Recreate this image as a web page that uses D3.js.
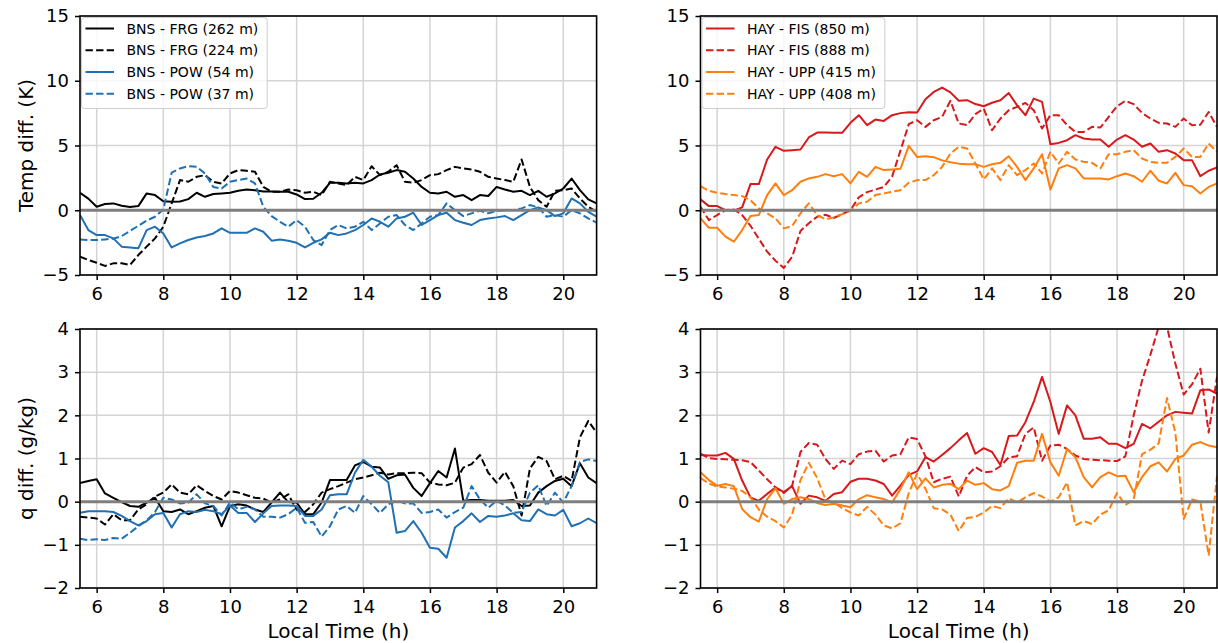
<!DOCTYPE html>
<html>
<head>
<meta charset="utf-8">
<script src="https://cdn.jsdelivr.net/npm/d3@7"></script>
<style>
  body { margin: 0; background: #fff; }
  svg { display: block; }
  text { font-family: "DejaVu Sans", sans-serif; fill: #000; }
</style>
</head>
<body>
<svg id="fig" width="1218" height="643"></svg>
<script>
// Sampling times (local time, hours), every 15 minutes
const times = [5.5,5.75,6,6.25,6.5,6.75,7,7.25,7.5,7.75,8,8.25,8.5,8.75,9,9.25,9.5,9.75,
  10,10.25,10.5,10.75,11,11.25,11.5,11.75,12,12.25,12.5,12.75,13,13.25,13.5,13.75,
  14,14.25,14.5,14.75,15,15.25,15.5,15.75,16,16.25,16.5,16.75,17,17.25,17.5,17.75,
  18,18.25,18.5,18.75,19,19.25,19.5,19.75,20,20.25,20.5,20.75,21];

const xTicks = [6, 8, 10, 12, 14, 16, 18, 20];
const tempTicks = [-5, 0, 5, 10, 15];
const qTicks = [-2, -1, 0, 1, 2, 3, 4];

// Temperature differences (K)
const tempBnsFrg262 = [1.35,0.9,0.27,0.48,0.53,0.35,0.25,0.32,1.3,1.17,0.7,0.65,0.68,0.86,1.35,1.04,1.25,1.3,1.35,1.5,1.6,1.55,1.45,1.45,1.43,1.43,1.22,0.86,0.89,1.35,2.12,2.12,2.07,2.12,2.07,2.33,2.76,2.9,3.1,2.97,2.45,1.8,1.35,1.3,1.43,1.04,1.17,0.78,1.17,1.1,1.8,1.6,1.43,1.5,1.17,1.5,1.04,1.3,1.68,2.45,1.55,0.84,0.53];
const tempBnsFrg224 = [-3.59,-3.84,-4.05,-4.3,-4.1,-4.1,-4.23,-3.46,-2.81,-2.17,-1.27,0.53,2.33,2.2,2.58,2.71,2.2,2.07,2.84,3.1,3.05,2.97,1.8,1.43,1.43,1.6,1.55,1.35,1.43,1.17,2.2,2.07,1.94,2.58,2.33,3.4,2.71,2.97,3.48,2.2,2.12,2.33,2.71,2.79,3.1,3.35,3.23,3.15,2.97,2.58,2.45,2.33,2.2,3.92,1.8,0.78,0.27,1.5,1.55,1.68,0.91,0.27,-0.12];
const tempBnsPow54 = [-0.37,-1.53,-1.92,-1.92,-2.17,-2.81,-2.87,-2.94,-1.53,-1.27,-1.79,-2.87,-2.56,-2.3,-2.1,-1.99,-1.79,-1.4,-1.74,-1.74,-1.74,-1.4,-1.66,-2.35,-2.25,-2.35,-2.51,-2.87,-2.51,-2.25,-1.74,-1.92,-1.79,-1.53,-1.14,-0.63,-0.89,-1.27,-0.63,-0.5,-0.19,-1.14,-0.76,-0.37,-0.19,-0.76,-0.96,-1.14,-0.76,-0.63,-0.55,-0.45,-0.76,-0.37,0.01,0.22,0.01,-0.45,-0.24,0.91,0.53,-0.12,-0.5];
const tempBnsPow37 = [-2.25,-2.3,-2.3,-2.25,-2.2,-2.0,-1.6,-1.2,-0.8,-0.5,0.05,2.9,3.23,3.4,3.35,2.84,1.8,1.68,2.2,2.33,2.45,2.07,0.27,-0.45,-0.89,-1.27,-0.76,-1.27,-2.3,-2.69,-1.53,-1.14,-1.4,-1.27,-0.89,-1.53,-1.02,-0.5,-0.37,-1.14,-1.53,-1.02,-0.5,-0.37,0.53,0.01,-0.45,-0.24,-0.04,-0.24,-0.04,0.01,0.01,0.14,0.4,0.22,-0.5,-0.37,-0.5,0.01,-0.24,-0.63,-0.96];
const tempHayFis850 = [0.84,0.32,0.32,0.01,-0.04,0.22,2.02,2.02,3.92,4.9,4.59,4.64,4.69,5.62,6.0,6.0,5.98,5.98,6.75,7.34,6.57,7.0,6.9,7.34,7.5,7.57,7.55,8.57,9.14,9.47,9.1,8.45,8.5,8.2,8.03,8.3,8.5,9.05,8.1,7.34,8.62,8.37,5.1,5.2,5.41,5.8,5.54,5.46,5.46,4.9,5.46,5.8,5.46,4.9,5.15,4.51,4.64,4.38,3.87,3.87,2.63,3.05,3.3];
const tempHayFis888 = [0.27,-0.76,-0.37,0.01,0.06,-0.37,-1.2,-2.2,-3.2,-3.9,-4.45,-3.6,-1.6,-1.0,-0.5,-0.35,-0.6,-0.3,0.0,1.0,1.4,1.6,1.8,2.6,4.6,6.65,6.95,6.44,6.95,7.21,8.45,6.7,6.57,7.42,7.85,6.18,7.08,7.72,7.98,8.29,7.72,6.31,7.34,7.34,6.57,6.05,6.05,6.44,6.39,7.21,8.03,8.45,8.19,7.52,7.08,6.75,6.7,6.44,7.08,6.57,6.6,7.59,6.44];
const tempHayUpp415 = [-0.63,-1.35,-1.35,-2.04,-2.43,-1.53,-0.45,-0.37,1.17,2.07,1.17,1.55,2.2,2.46,2.58,2.79,2.63,2.79,2.07,2.97,2.58,3.35,3.1,3.15,3.2,4.97,4.12,4.17,4.1,3.85,3.7,3.6,3.56,3.56,3.35,3.55,3.66,4.17,3.35,2.33,3.23,4.33,1.6,3.23,3.48,3.23,2.46,2.46,2.46,2.38,2.63,2.84,2.63,2.2,3.05,2.28,2.07,2.89,1.94,1.86,1.3,1.8,2.07];
const tempHayUpp408 = [1.86,1.5,1.35,1.25,1.17,1.09,0.78,0.14,-0.24,-0.63,-1.4,-1.22,-0.24,0.53,-0.37,-0.7,-0.55,-0.3,-0.04,0.53,0.66,1.17,1.3,1.43,1.55,2.12,2.33,2.33,2.71,3.35,4.38,4.9,4.77,3.61,2.38,3.23,2.33,3.48,2.71,3.1,3.61,2.84,4.51,3.61,4.51,3.92,3.74,3.66,3.23,4.33,4.33,4.51,4.64,4.0,3.74,3.66,3.66,4.12,4.77,4.12,4.12,5.15,4.51];

// Specific humidity differences (g/kg)
const qBnsFrg262 = [0.43,0.48,0.52,0.19,0.09,-0.01,-0.1,-0.12,-0.02,0.09,-0.22,-0.24,-0.18,-0.29,-0.22,-0.14,-0.1,-0.57,-0.1,-0.06,-0.09,-0.18,-0.24,-0.02,0.21,-0.01,-0.02,-0.29,-0.29,-0.02,0.5,0.5,0.5,0.84,0.92,0.81,0.79,0.53,0.61,0.63,0.32,0.13,0.43,0.71,0.56,1.23,0.02,0.04,0.04,0.02,0.02,0.02,0.04,-0.1,-0.09,0.21,0.36,0.48,0.53,0.36,0.89,0.56,0.43];
const qBnsFrg224 = [-0.35,-0.37,-0.39,-0.53,-0.29,-0.43,-0.43,-0.18,-0.06,0.12,0.21,0.4,0.21,0.17,0.38,0.25,0.13,0.05,0.25,0.21,0.15,0.09,0.07,-0.02,0.05,0.17,-0.19,-0.24,-0.06,0.21,0.29,0.36,0.44,0.52,0.56,0.61,0.67,0.63,0.66,0.66,0.67,0.66,0.44,0.4,0.38,0.44,0.79,0.87,1.08,0.67,0.44,0.69,0.36,-0.32,0.77,1.04,0.94,0.52,0.6,0.48,1.49,1.87,1.6];
const qBnsPow54 = [-0.26,-0.22,-0.22,-0.22,-0.24,-0.33,-0.45,-0.55,-0.45,-0.29,-0.26,-0.6,-0.29,-0.22,-0.24,-0.19,-0.22,-0.29,-0.09,-0.26,-0.26,-0.47,-0.27,-0.1,-0.09,-0.09,-0.1,-0.33,-0.33,-0.18,0.15,0.17,0.17,0.67,0.97,0.81,0.6,0.45,-0.72,-0.68,-0.45,-0.72,-1.07,-1.09,-1.3,-0.6,-0.45,-0.27,-0.47,-0.33,-0.35,-0.32,-0.27,-0.43,-0.45,-0.18,-0.29,-0.32,-0.19,-0.57,-0.5,-0.39,-0.5];
const qBnsPow37 = [-0.86,-0.89,-0.87,-0.89,-0.84,-0.86,-0.72,-0.57,-0.43,-0.24,0.09,0.05,-0.04,-0.02,0.17,-0.04,-0.1,-0.32,-0.02,-0.18,-0.12,-0.18,-0.35,-0.35,-0.37,-0.29,-0.14,-0.49,-0.47,-0.81,-0.57,-0.18,-0.1,-0.26,0.13,-0.06,-0.26,-0.06,0.02,-0.04,-0.04,-0.26,-0.24,-0.18,-0.37,-0.24,-0.14,0.36,0.05,-0.14,0.02,-0.09,-0.26,-0.24,0.21,0.38,-0.1,0.21,-0.02,0.36,0.92,0.98,0.94];
const qHayFis850 = [1.08,1.07,1.07,1.13,0.99,0.49,0.1,0.02,0.18,0.33,0.22,0.36,-0.05,0.14,0.1,0.02,0.18,0.22,0.46,0.53,0.53,0.49,0.41,0.14,0.37,0.62,0.7,1.03,0.93,1.08,1.24,1.42,1.59,1.11,1.24,1.15,0.85,1.52,1.53,1.84,2.31,2.89,2.31,1.57,2.23,2.0,1.46,1.46,1.49,1.34,1.34,1.24,1.34,1.8,1.7,1.85,2.0,2.08,2.06,2.04,2.58,2.6,2.5];
const qHayFis888 = [1.11,1.01,0.99,0.98,0.97,0.96,0.92,0.72,0.52,0.33,0.2,0.37,1.15,1.36,1.32,0.99,0.76,0.95,0.87,1.1,1.16,1.18,0.93,1.07,1.1,1.49,1.45,1.05,0.45,0.53,0.58,0.12,0.6,0.8,0.68,0.7,0.82,1.03,1.05,1.57,1.72,0.95,1.3,1.32,1.22,1.07,0.99,0.97,0.96,0.95,0.94,1.05,2.0,2.8,3.4,4.05,4.05,3.2,2.48,2.72,3.08,1.6,2.89];
const qHayUpp415 = [0.68,0.5,0.37,0.41,0.36,-0.17,-0.36,-0.46,0.06,0.31,-0.05,0.06,0.1,0.06,-0.03,-0.08,-0.05,-0.09,-0.13,0.06,0.15,0.1,0.06,-0.02,0.29,0.68,0.29,0.54,0.33,0.39,0.41,0.29,0.49,0.39,0.43,0.29,0.26,0.36,0.9,0.95,0.95,1.57,0.91,0.6,1.22,1.03,0.57,0.33,0.57,0.68,0.59,0.6,0.22,0.57,0.82,0.91,0.7,0.99,1.07,1.32,1.38,1.3,1.26];
const qHayUpp408 = [0.55,0.42,0.35,0.33,0.3,0.25,0.1,-0.18,-0.35,-0.45,-0.6,-0.3,0.5,0.9,0.55,0.05,-0.02,-0.15,-0.25,-0.32,-0.12,-0.3,-0.55,-0.62,-0.5,0.2,0.65,0.3,-0.15,-0.18,-0.3,-0.68,-0.38,-0.35,-0.25,-0.1,-0.15,0.08,-0.02,0.1,0.2,0.12,0.0,0.1,0.45,-0.55,-0.45,-0.52,-0.3,-0.2,0.2,-0.08,0.05,1.1,1.2,1.35,2.4,1.6,-0.4,0.05,0.0,-1.25,0.6];

const BLACK = "#000000", BLUE = "#1f70b4", RED = "#d7191c", ORANGE = "#ff7f0e";

const bnsTempSeries = [
  { label: "BNS - FRG (262 m)", values: tempBnsFrg262, color: BLACK, dashed: false },
  { label: "BNS - FRG (224 m)", values: tempBnsFrg224, color: BLACK, dashed: true },
  { label: "BNS - POW (54 m)",  values: tempBnsPow54,  color: BLUE,  dashed: false },
  { label: "BNS - POW (37 m)",  values: tempBnsPow37,  color: BLUE,  dashed: true }
];
const hayTempSeries = [
  { label: "HAY - FIS (850 m)", values: tempHayFis850, color: RED,    dashed: false },
  { label: "HAY - FIS (888 m)", values: tempHayFis888, color: RED,    dashed: true },
  { label: "HAY - UPP (415 m)", values: tempHayUpp415, color: ORANGE, dashed: false },
  { label: "HAY - UPP (408 m)", values: tempHayUpp408, color: ORANGE, dashed: true }
];
const bnsQSeries = [
  { values: qBnsFrg262, color: BLACK, dashed: false },
  { values: qBnsFrg224, color: BLACK, dashed: true },
  { values: qBnsPow54,  color: BLUE,  dashed: false },
  { values: qBnsPow37,  color: BLUE,  dashed: true }
];
const hayQSeries = [
  { values: qHayFis850, color: RED,    dashed: false },
  { values: qHayFis888, color: RED,    dashed: true },
  { values: qHayUpp415, color: ORANGE, dashed: false },
  { values: qHayUpp408, color: ORANGE, dashed: true }
];

const LEFT = [80, 596.6], RIGHT = [700.5, 1217];
const TOP = [16, 275], BOTTOM = [329, 588];

const panels = [
  { id: "tl", xr: LEFT,  yr: TOP,    domain: [-5, 15], ticks: tempTicks, series: bnsTempSeries, legend: true, ylabel: "Temp diff. (K)" },
  { id: "tr", xr: RIGHT, yr: TOP,    domain: [-5, 15], ticks: tempTicks, series: hayTempSeries, legend: true },
  { id: "bl", xr: LEFT,  yr: BOTTOM, domain: [-2, 4],  ticks: qTicks,    series: bnsQSeries, ylabel: "q diff. (g/kg)", xlabel: "Local Time (h)" },
  { id: "br", xr: RIGHT, yr: BOTTOM, domain: [-2, 4],  ticks: qTicks,    series: hayQSeries, xlabel: "Local Time (h)" }
];

const svg = d3.select("#fig");
const fmt = v => (v < 0 ? "\u2212" + Math.abs(v) : String(v));
const DASH = "7.4,3.2";

panels.forEach(p => {
  const x = d3.scaleLinear().domain([5.5, 21]).range(p.xr);
  const y = d3.scaleLinear().domain(p.domain).range([p.yr[1], p.yr[0]]);
  const g = svg.append("g");

  // clip region for the data
  svg.append("clipPath").attr("id", "clip-" + p.id)
    .append("rect")
    .attr("x", p.xr[0]).attr("y", p.yr[0])
    .attr("width", p.xr[1] - p.xr[0]).attr("height", p.yr[1] - p.yr[0]);

  // grid
  g.append("g").selectAll("line").data(xTicks).join("line")
    .attr("x1", d => x(d)).attr("x2", d => x(d))
    .attr("y1", p.yr[0]).attr("y2", p.yr[1])
    .attr("stroke", "#d4d4d4").attr("stroke-width", 1.5);
  g.append("g").selectAll("line").data(p.ticks).join("line")
    .attr("x1", p.xr[0]).attr("x2", p.xr[1])
    .attr("y1", d => y(d)).attr("y2", d => y(d))
    .attr("stroke", "#d4d4d4").attr("stroke-width", 1.5);

  // data lines
  const line = d3.line().x((d, i) => x(times[i])).y(d => y(d));
  const lines = g.append("g").attr("clip-path", `url(#clip-${p.id})`);
  p.series.forEach(s => {
    lines.append("path")
      .attr("d", line(s.values))
      .attr("fill", "none")
      .attr("stroke", s.color)
      .attr("stroke-width", 2)
      .attr("stroke-linejoin", "round")
      .attr("stroke-dasharray", s.dashed ? DASH : null);
  });

  // zero reference line
  g.append("line")
    .attr("x1", p.xr[0]).attr("x2", p.xr[1])
    .attr("y1", y(0)).attr("y2", y(0))
    .attr("stroke", "#7f7f7f").attr("stroke-width", 3);

  // axes
  const xAxis = d3.axisBottom(x).tickValues(xTicks).tickSize(5).tickPadding(6).tickFormat(fmt);
  const yAxis = d3.axisLeft(y).tickValues(p.ticks).tickSize(5).tickPadding(6).tickFormat(fmt);
  const gx = g.append("g").attr("transform", `translate(0,${p.yr[1]})`).call(xAxis);
  const gy = g.append("g").attr("transform", `translate(${p.xr[0]},0)`).call(yAxis);
  [gx, gy].forEach(a => {
    a.select(".domain").remove();
    a.selectAll(".tick line").attr("stroke", "#000").attr("stroke-width", 1.5);
    a.selectAll(".tick text").attr("font-size", 18).attr("font-family", "DejaVu Sans").attr("fill", "#000");
  });
  gx.selectAll(".tick text").attr("dy", null).attr("y", 25);

  // frame
  g.append("rect")
    .attr("x", p.xr[0]).attr("y", p.yr[0])
    .attr("width", p.xr[1] - p.xr[0]).attr("height", p.yr[1] - p.yr[0])
    .attr("fill", "none").attr("stroke", "#000").attr("stroke-width", 1.6);

  // axis titles
  if (p.ylabel) {
    const cy = (p.yr[0] + p.yr[1]) / 2;
    g.append("text")
      .attr("transform", `translate(33,${cy}) rotate(-90)`)
      .attr("text-anchor", "middle")
      .attr("font-size", 20)
      .text(p.ylabel);
  }
  if (p.xlabel) {
    g.append("text")
      .attr("x", (p.xr[0] + p.xr[1]) / 2).attr("y", 638)
      .attr("text-anchor", "middle")
      .attr("font-size", 20)
      .text(p.xlabel);
  }

  // legend
  if (p.legend) {
    const lg = g.append("g");
    const box = lg.append("rect")
      .attr("x", p.xr[0] + 1.5).attr("y", p.yr[0] + 1.5)
      .attr("rx", 3).attr("ry", 3)
      .attr("fill", "#fff").attr("fill-opacity", 0.8)
      .attr("stroke", "#cccccc").attr("stroke-width", 1);
    let maxRight = 0;
    p.series.forEach((s, i) => {
      const cy = p.yr[0] + 12.5 + i * 21.75;
      lg.append("line")
        .attr("x1", p.xr[0] + 5.5).attr("x2", p.xr[0] + 34)
        .attr("y1", cy).attr("y2", cy)
        .attr("stroke", s.color).attr("stroke-width", 2)
        .attr("stroke-dasharray", s.dashed ? DASH : null);
      const t = lg.append("text")
        .attr("x", p.xr[0] + 46.5).attr("y", cy + 5)
        .attr("font-size", 14)
        .text(s.label);
      maxRight = Math.max(maxRight, p.xr[0] + 46.5 + t.node().getComputedTextLength());
    });
    box.attr("width", maxRight + 9 - (p.xr[0] + 1.5)).attr("height", 91);
  }
});
</script>
</body>
</html>
